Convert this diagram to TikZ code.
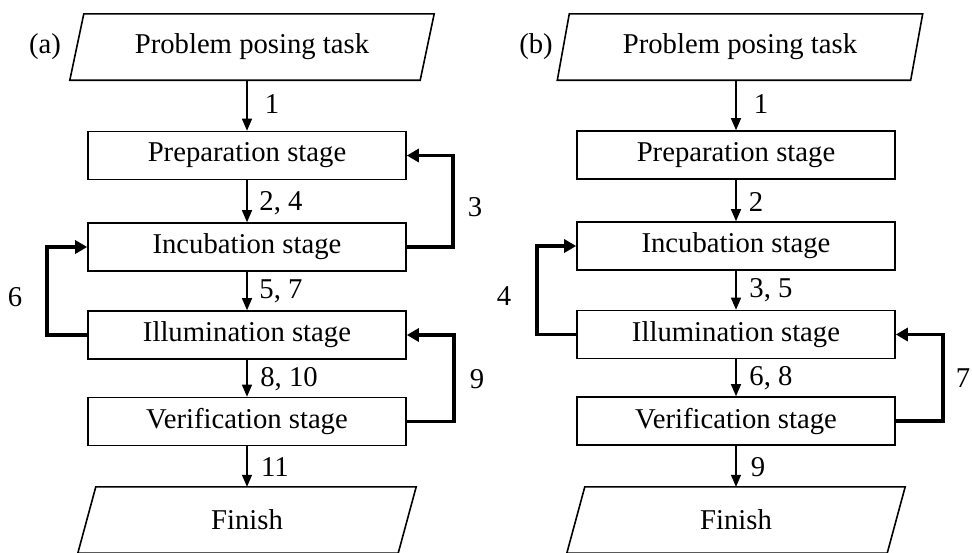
\documentclass[tikz,border=0pt]{standalone}
\usepackage{fontspec}
\setmainfont{Liberation Serif}
\usetikzlibrary{arrows.meta,calc}
\begin{document}
\begin{tikzpicture}[x=1pt,y=-1pt,
  every node/.style={font=\fontsize{28.7}{34}\selectfont, inner sep=0pt},
  stagebox/.style={draw, line width=1.6pt, minimum width=318pt, minimum height=48pt},
  io/.style={minimum height=66pt},
  flow/.style={line width=1.3pt, -{Triangle[length=12pt,width=10pt]}},
  loopback/.style={line width=3.6pt, -{Triangle[length=12pt,width=13pt]}},
  slant/.style={line width=1.6pt, line join=miter}]
\useasboundingbox (0,0) rectangle (972,552);

% ---------------- panel (a) ----------------
\node (la) at (45,47) {(a)};
\node[io, minimum width=350pt] (ta) at (252,47) {Problem posing task};
\draw[slant] ($(ta.north west)+(7,0)$) -- ($(ta.north east)+(7,0)$)
  -- ($(ta.south east)+(-7,0)$) -- ($(ta.south west)+(-7,0)$) -- cycle;
\node[stagebox] (pa) at (247,155.5) {Preparation stage};
\node[stagebox] (ia) at (247,247) {Incubation stage};
\node[stagebox] (lla) at (247,335) {Illumination stage};
\node[stagebox] (va) at (247,421.5) {Verification stage};
\node[io, minimum width=320pt] (fa) at (247,520) {Finish};
\draw[slant] ($(fa.north west)+(9,0)$) -- ($(fa.north east)+(9,0)$)
  -- ($(fa.south east)+(-9,0)$) -- ($(fa.south west)+(-9,0)$) -- cycle;

\draw[flow] (pa.north |- ta.south) -- (pa.north);
\draw[flow] (pa) -- (ia);
\draw[flow] (ia) -- (lla);
\draw[flow] (lla) -- (va);
\draw[flow] (va.south) -- (va.south |- fa.north);

\draw[loopback] (ia.east) -- ++(46,0) |- (pa.east);
\draw[loopback] (lla.west) -- ++(-40,0) |- (ia.west);
\draw[loopback] (va.east) -- ++(47,0) |- (lla.east);

\node at (272,104) {1};
\node at (281,203) {2, 4};
\node at (281,291) {5, 7};
\node at (289,379) {8, 10};
\node at (275,467) {11};
\node at (475,207) {3};
\node at (15,297) {6};
\node at (477,379) {9};

% ---------------- panel (b) ----------------
\node (lb) at (536,47) {(b)};
\node[io, minimum width=353pt] (tb) at (740,47) {Problem posing task};
\draw[slant] ($(tb.north west)+(6,0)$) -- ($(tb.north east)+(6,0)$)
  -- ($(tb.south east)+(-6,0)$) -- ($(tb.south west)+(-6,0)$) -- cycle;
\node[stagebox] (pb) at (736,155) {Preparation stage};
\node[stagebox] (ib) at (736,246) {Incubation stage};
\node[stagebox] (llb) at (736,334.5) {Illumination stage};
\node[stagebox] (vb) at (736,421) {Verification stage};
\node[io, minimum width=320pt] (fb) at (736,520) {Finish};
\draw[slant] ($(fb.north west)+(9,0)$) -- ($(fb.north east)+(9,0)$)
  -- ($(fb.south east)+(-9,0)$) -- ($(fb.south west)+(-9,0)$) -- cycle;

\draw[flow] (pb.north |- tb.south) -- (pb.north);
\draw[flow] (pb) -- (ib);
\draw[flow] (ib) -- (llb);
\draw[flow] (llb) -- (vb);
\draw[flow] (vb.south) -- (vb.south |- fb.north);

\draw[loopback] (llb.west) -- ++(-39,0) |- (ib.west);
\draw[loopback] (vb.east) -- ++(47,0) |- (llb.east);

\node at (761,104) {1};
\node at (756,202) {2};
\node at (771,290) {3, 5};
\node at (771,378) {6, 8};
\node at (758,467) {9};
\node at (504,296) {4};
\node at (963,378) {7};
\end{tikzpicture}
\end{document}
